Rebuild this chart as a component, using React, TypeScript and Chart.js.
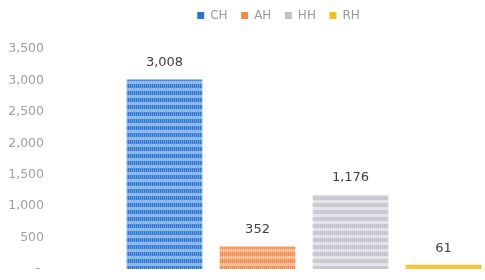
import React, { useEffect, useRef } from 'react';
import { Chart, registerables } from 'chart.js';

Chart.register(...registerables);

const categories = ['CH', 'AH', 'HH', 'RH'];
const values = [3008, 352, 1176, 61];
const yMin = 0;
const yMax = 3500;
const yStep = 500;

const darkColors = ['#2c74d2', '#ef8a4c', '#c0c0ca', '#f2c01c'];
const lightColors = ['#8cbaec', '#f8bd97', '#e4e4ea', '#f2c01c'];

function makePattern(dark: string, light: string): CanvasPattern | string {
  const c = document.createElement('canvas');
  c.width = 2;
  c.height = 7;
  const g = c.getContext('2d');
  if (!g) return dark;
  g.fillStyle = light;
  g.fillRect(0, 0, 2, 7);
  g.fillStyle = dark;
  g.fillRect(0, 0, 2, 4);
  g.fillStyle = 'rgba(255,255,255,0.3)';
  g.fillRect(1, 0, 1, 4);
  const p = g.createPattern(c, 'repeat');
  return p || dark;
}

const fmt = (v: number) => v.toLocaleString('en-US');

const dataLabels = {
  id: 'dataLabels',
  afterDatasetsDraw(chart: any) {
    const ctx = chart.ctx;
    ctx.save();
    ctx.font = '13px "DejaVu Sans"';
    ctx.fillStyle = '#404040';
    ctx.textAlign = 'center';
    ctx.textBaseline = 'middle';
    chart.data.datasets.forEach((ds: any, i: number) => {
      const meta = chart.getDatasetMeta(i);
      meta.data.forEach((el: any, j: number) => {
        const v = ds.data[j].y;
        ctx.fillText(fmt(v), el.x, el.y - 17);
      });
    });
    ctx.restore();
  },
};

const shiftLegend = {
  id: 'shiftLegend',
  afterLayout(chart: any) {
    const l = chart.legend;
    if (!l) return;
    const dx = 36;
    const dy = -17.5;
    l.left += dx;
    l.right += dx;
    l.top += dy;
    l.bottom += dy;
  },
};

export default function App() {
  const ref = useRef<HTMLCanvasElement | null>(null);

  useEffect(() => {
    if (!ref.current) return;
    const datasets = categories.map((c, i) => ({
      label: c,
      data: [{ x: i + 1, y: values[i] }],
      backgroundColor: makePattern(darkColors[i], lightColors[i]),
      borderWidth: 0,
      barThickness: 75,
      grouped: false,
    }));
    const chart = new Chart(ref.current, {
      type: 'bar',
      data: { datasets } as any,
      options: {
        animation: false,
        responsive: true,
        maintainAspectRatio: false,
        layout: { padding: { top: 13.5, bottom: 11, left: 0, right: 0 } },
        plugins: {
          tooltip: { enabled: false },
          legend: {
            position: 'top',
            align: 'center',
            labels: {
              boxWidth: 7,
              boxHeight: 7,
              padding: 13.5,
              color: '#9a9a9a',
              font: { family: '"DejaVu Sans"', size: 12 },
              generateLabels: (ch: any) =>
                Chart.defaults.plugins.legend.labels
                  .generateLabels(ch)
                  .map((it: any, i: number) => ({
                    ...it,
                    fillStyle: darkColors[i],
                    strokeStyle: darkColors[i],
                    lineWidth: 0,
                  })),
            },
          },
        },
        scales: {
          x: {
            type: 'linear',
            min: -0.2957,
            max: 4.446,
            offset: false,
            display: false,
          },
          y: {
            min: yMin,
            max: yMax,
            grid: { display: false, drawTicks: false },
            border: { display: false },
            ticks: {
              stepSize: yStep,
              padding: 0,
              color: '#a0a0a0',
              font: { family: '"DejaVu Sans"', size: 12.5 },
              callback: (v: any) => (Number(v) === 0 ? '- ' : fmt(Number(v))),
            },
            afterFit: (a: any) => {
              a.width = 44;
            },
          },
        },
      } as any,
      plugins: [dataLabels, shiftLegend],
    });
    return () => chart.destroy();
  }, []);

  return (
    <div style={{ position: 'fixed', left: 0, top: 0, width: 485, height: 280, background: '#fff' }}>
      <canvas ref={ref} />
    </div>
  );
}
